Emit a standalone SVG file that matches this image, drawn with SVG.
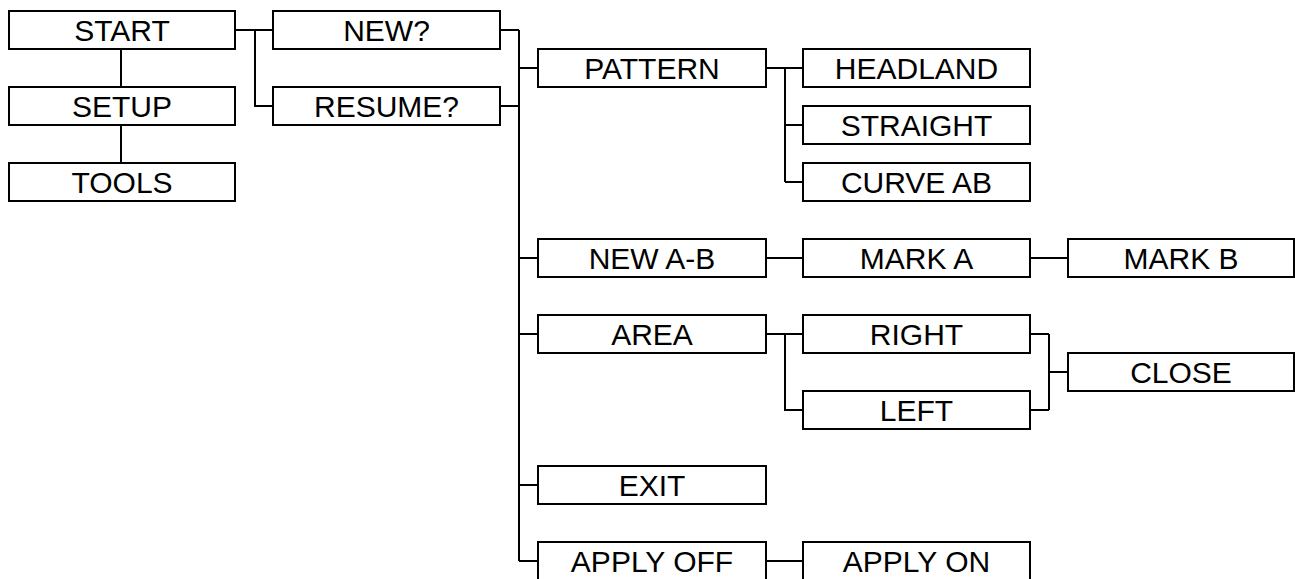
<svg xmlns="http://www.w3.org/2000/svg" width="1295" height="579" viewBox="0 0 1295 579">
<style>
.box{fill:#fff;stroke:#000;stroke-width:2}
.lbl{font-family:"Liberation Sans",Arial,sans-serif;font-size:30px;fill:#000;text-anchor:middle}
.con{fill:none;stroke:#000;stroke-width:2}
</style>
<rect width="1295" height="579" fill="#fff"/>
<g id="connectors" class="con">
<path d="M121 49V87M121 125V163"/>
<path d="M235 30H273M255 30V106H273"/>
<path d="M500 30H519M500 106H519M519 30V561M519 68H538M519 258H538M519 334H538M519 485H538M519 561H538"/>
<path d="M766 68H803M785 68V182M785 125H803M785 182H803"/>
<path d="M766 258H803M1030 258H1068"/>
<path d="M766 334H803M785 334V410H803"/>
<path d="M1030 334H1049M1030 410H1049M1049 334V410M1049 372H1068"/>
<path d="M766 561H803"/>
</g>
<g id="start"><rect class="box" x="9" y="11" width="226" height="38"/><text class="lbl" x="122" y="40.7">START</text></g>
<g id="setup"><rect class="box" x="9" y="87" width="226" height="38"/><text class="lbl" x="122" y="116.7">SETUP</text></g>
<g id="tools"><rect class="box" x="9" y="163" width="226" height="38"/><text class="lbl" x="122" y="192.7">TOOLS</text></g>
<g id="new"><rect class="box" x="273" y="11" width="227" height="38"/><text class="lbl" x="386.5" y="40.7">NEW?</text></g>
<g id="resume"><rect class="box" x="273" y="87" width="227" height="38"/><text class="lbl" x="386.5" y="116.7">RESUME?</text></g>
<g id="pattern"><rect class="box" x="538" y="49" width="228" height="38"/><text class="lbl" x="652" y="78.7">PATTERN</text></g>
<g id="newab"><rect class="box" x="538" y="239" width="228" height="38"/><text class="lbl" x="652" y="268.7">NEW A-B</text></g>
<g id="area"><rect class="box" x="538" y="315" width="228" height="38"/><text class="lbl" x="652" y="344.7">AREA</text></g>
<g id="exit"><rect class="box" x="538" y="466" width="228" height="38"/><text class="lbl" x="652" y="495.7">EXIT</text></g>
<g id="applyoff"><rect class="box" x="538" y="542" width="228" height="38"/><text class="lbl" x="652" y="571.7">APPLY OFF</text></g>
<g id="headland"><rect class="box" x="803" y="49" width="227" height="38"/><text class="lbl" x="916.5" y="78.7">HEADLAND</text></g>
<g id="straight"><rect class="box" x="803" y="106" width="227" height="38"/><text class="lbl" x="916.5" y="135.7">STRAIGHT</text></g>
<g id="curveab"><rect class="box" x="803" y="163" width="227" height="38"/><text class="lbl" x="916.5" y="192.7">CURVE AB</text></g>
<g id="marka"><rect class="box" x="803" y="239" width="227" height="38"/><text class="lbl" x="916.5" y="268.7">MARK A</text></g>
<g id="right"><rect class="box" x="803" y="315" width="227" height="38"/><text class="lbl" x="916.5" y="344.7">RIGHT</text></g>
<g id="left"><rect class="box" x="803" y="391" width="227" height="38"/><text class="lbl" x="916.5" y="420.7">LEFT</text></g>
<g id="applyon"><rect class="box" x="803" y="542" width="227" height="38"/><text class="lbl" x="916.5" y="571.7">APPLY ON</text></g>
<g id="markb"><rect class="box" x="1068" y="239" width="226" height="38"/><text class="lbl" x="1181" y="268.7">MARK B</text></g>
<g id="close"><rect class="box" x="1068" y="353" width="226" height="38"/><text class="lbl" x="1181" y="382.7">CLOSE</text></g>
</svg>
